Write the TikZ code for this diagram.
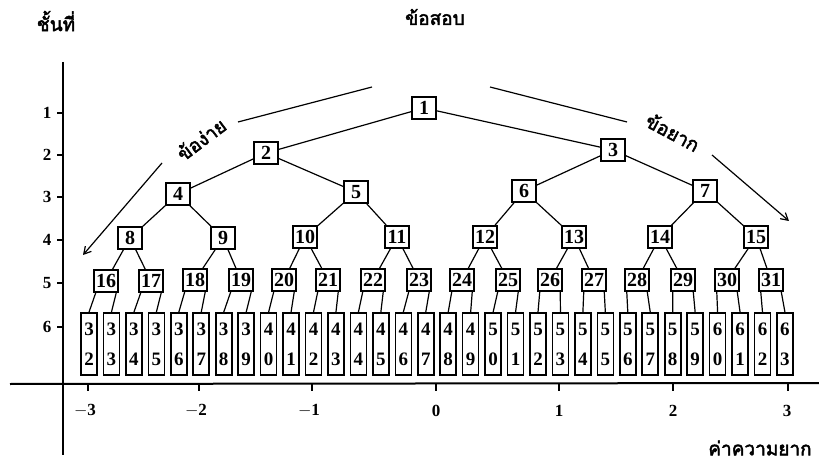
\documentclass[tikz,border=0pt]{standalone}
\usepackage{fontspec}
\setmainfont{Liberation Serif}
\newfontfamily\thaifont[Script=Thai,AutoFakeBold=2.5]{Loma}
\usetikzlibrary{arrows.meta}
\begin{document}
\begin{tikzpicture}[x=1pt,y=-1pt,
  tnode/.style={draw, line width=1.5pt, minimum width=24pt, minimum height=22pt, inner sep=1.2pt, fill=white, font=\fontsize{20}{20}\selectfont\bfseries},
  leaf/.style={draw, line width=1.6pt, minimum width=16pt, minimum height=62pt, inner sep=0pt, align=center, font=\fontsize{19}{30}\selectfont\bfseries},
  edge/.style={line width=1.2pt},
  axis/.style={line width=2pt},
  thai/.style={font=\thaifont\bfseries\fontsize{19}{19}\selectfont},
  tick/.style={font=\fontsize{17}{17}\selectfont\bfseries}
]
\useasboundingbox (0,0) rectangle (819,462);
% axes
\coordinate (ytop) at (63,62); \coordinate (ybot) at (63,455);
\coordinate (xl) at (10,384); \coordinate (xr) at (819,383);
\draw[axis] (ytop) -- (ybot);
\draw[axis] (xl) -- (xr);
\foreach \v/\yy in {1/113,2/155,3/197,4/240,5/283,6/327}{
  \coordinate (yt\v) at (57,\yy); \coordinate (ya\v) at (63,\yy);
  \draw[axis] (yt\v) -- (ya\v);
  \node[tick] (yl\v) at (47,\yy) {\v};
}
\foreach \v/\xx in {m3/88,m2/199,m1/312,z/436,p1/559,p2/673,p3/788}{
  \coordinate (xt\v) at (\xx,384); \coordinate (xa\v) at (\xx,391);
  \draw[axis] (xt\v) -- (xa\v);
}
\node[tick] (xlm3) at (85,411) {$-$3};
\node[tick] (xlm2) at (196,411) {$-$2};
\node[tick] (xlm1) at (309,411) {$-$1};
\node[tick] (xlz) at (436,411) {0};
\node[tick] (xlp1) at (559,411) {1};
\node[tick] (xlp2) at (673,411) {2};
\node[tick] (xlp3) at (787,411) {3};
% labels
\node[thai] (ylab) at (56,21) {ชั้นที่};
\node[thai] (title) at (435,17) {ข้อสอบ};
\node[thai] (xlab) at (760,448) {ค่าความยาก};
\node[thai, rotate=37] (easy) at (201,139) {ข้อง่าย};
\node[thai, rotate=-28] (hard) at (673,132) {ข้อยาก};
\coordinate (e1) at (238,122); \coordinate (e2) at (372,87);
\coordinate (e3) at (162,163); \coordinate (e4) at (83,255);
\coordinate (h1) at (490,87); \coordinate (h2) at (627,122);
\coordinate (h3) at (712,155); \coordinate (h4) at (789,221);
\draw[edge] (e1) -- (e2);
\draw[edge,-{Straight Barb[length=7pt,width=8pt]}] (e3) -- (e4);
\draw[edge] (h1) -- (h2);
\draw[edge,-{Straight Barb[length=7pt,width=8pt]}] (h3) -- (h4);
% tree nodes
\foreach \k/\xx/\yy in {1/424/108, 2/266/153, 3/613/150,
  4/178/194, 5/356/192, 6/524/191, 7/705/191,
  8/130/238, 9/223/238, 10/305/237, 11/397/237, 12/485/237, 13/574/237, 14/660/237, 15/756/237,
  16/106/281, 17/151/281, 18/195/280, 19/241/280, 20/284/280, 21/328/280, 22/373/280, 23/419/280,
  24/462/280, 25/508/280, 26/550/280, 27/594/280, 28/637/280, 29/683/280, 30/727/280, 31/771/280}{
  \node[tnode] (t\k) at (\xx,\yy) {\k};
}
% leaves
\foreach \i in {0,...,31}{
  \pgfmathsetmacro\lx{89+22.45*\i}
  \pgfmathtruncatemacro\ln{32+\i}
  \pgfmathtruncatemacro\dA{div(\ln,10)}
  \pgfmathtruncatemacro\dB{mod(\ln,10)}
  \node[leaf] (t\ln) at (\lx,344) {\dA\\\dB};
}
% edges
\foreach \k in {1,...,15}{
  \pgfmathtruncatemacro\ca{2*\k}
  \pgfmathtruncatemacro\cb{2*\k+1}
  \draw[edge] (t\k) -- (t\ca);
  \draw[edge] (t\k) -- (t\cb);
}
\foreach \k in {16,...,31}{
  \pgfmathtruncatemacro\ca{2*\k}
  \pgfmathtruncatemacro\cb{2*\k+1}
  \draw[edge] ([xshift=2.5pt]t\k.south west) -- (t\ca.north);
  \draw[edge] ([xshift=-2.5pt]t\k.south east) -- (t\cb.north);
}
\end{tikzpicture}
\end{document}
